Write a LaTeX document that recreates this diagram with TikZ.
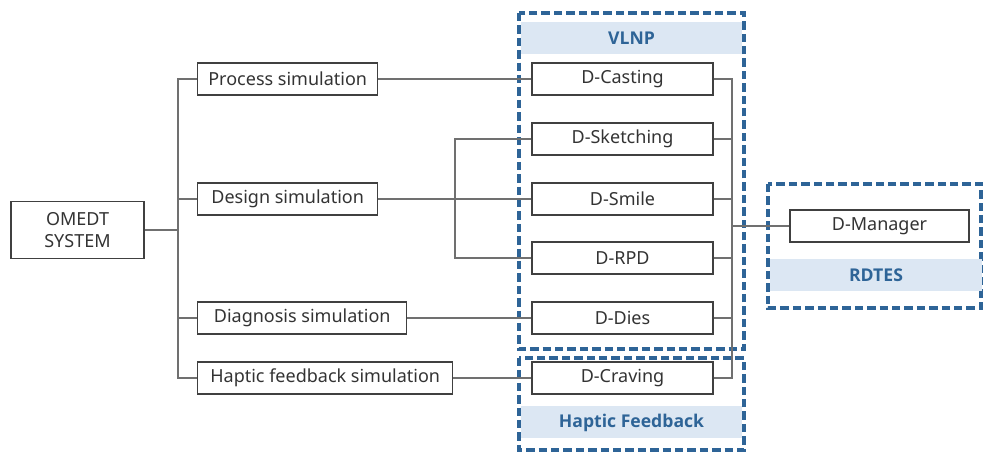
\documentclass[tikz,border=0pt]{standalone}
\usepackage{fontspec}
\setmainfont{Noto Sans}
\newfontfamily\bandfont{Open Sans}
\usetikzlibrary{positioning}
\definecolor{framec}{HTML}{2E6497}
\definecolor{bandc}{HTML}{DCE7F3}
\definecolor{linkc}{HTML}{707070}
\tikzset{
  box/.style={
    draw=black!75,
    line width=0.7pt,
    minimum height=16pt,
    inner sep=1pt,
    text=black!80,
    font=\fontsize{9}{11}\selectfont
  },
  simbox/.style={box, anchor=west},
  appbox/.style={box, minimum width=90.5pt},
  link/.style={linkc, line width=0.55pt},
  group/.style={framec, line width=1.6pt, dash pattern=on 4.2pt off 2pt},
  band/.style={
    fill=bandc,
    text=framec,
    minimum height=16pt,
    inner sep=0pt,
    font=\bandfont\fontsize{8.8}{10}\selectfont\bfseries
  }
}

\begin{document}
\begin{tikzpicture}[x=0.5pt, y=-0.5pt]
  \useasboundingbox (0,0) rectangle (984,453);

  % group frames
  \draw[group] (519,13) rectangle (744,349);
  \draw[group] (519,358) rectangle (744,450);
  \draw[group] (768,184) rectangle (981,308);
  \node[band, minimum width=110.5pt] (vlnp) at (631.5,38) {VLNP};
  \node[band, minimum width=110.5pt] (hapfb) at (631.5,422.5) {Haptic Feedback};
  \node[band, minimum width=106pt] (rdtes) at (876,275.5) {RDTES};

  % system
  \node[box, minimum width=66.5pt, minimum height=28.5pt, align=center] (omedt) at (77.5,230) {OMEDT\\SYSTEM};

  % simulations
  \node[simbox, minimum width=90pt] (proc) at (197,79) {Process simulation};
  \node[simbox, minimum width=90pt] (design) at (197,199) {Design simulation};
  \node[simbox, minimum width=104.5pt] (diag) at (197,318) {Diagnosis simulation};
  \node[simbox, minimum width=127.5pt] (haptic) at (197,378) {Haptic feedback simulation};

  % applications
  \node[appbox] (cast) at (622.5,79) {D-Casting};
  \node[appbox] (sketch) at (622.5,139) {D-Sketching};
  \node[appbox] (smile) at (622.5,199) {D-Smile};
  \node[appbox] (rpd) at (622.5,258) {D-RPD};
  \node[appbox] (dies) at (622.5,318) {D-Dies};
  \node[appbox] (crav) at (622.5,378) {D-Craving};
  \node[box, minimum width=89.5pt] (manager) at (879.5,226) {D-Manager};

  \coordinate (lt) at (178,230);
  \coordinate (mt) at (455,199);
  \coordinate (rt) at (732,226);

  \draw[link] (omedt) -- (lt);
  \foreach \n in {proc,design,diag,haptic}
    \draw[link] (\n.west) -| (lt);
  \draw[link] (proc) -- (cast);
  \draw[link] (design) -- (smile);
  \draw[link] (sketch.west) -| (mt);
  \draw[link] (rpd.west) -| (mt);
  \draw[link] (diag) -- (dies);
  \draw[link] (haptic) -- (crav);
  \foreach \n in {cast,sketch,smile,rpd,dies,crav}
    \draw[link] (\n.east) -| (rt);
  \draw[link] (rt) -- (manager);
\end{tikzpicture}
\end{document}
